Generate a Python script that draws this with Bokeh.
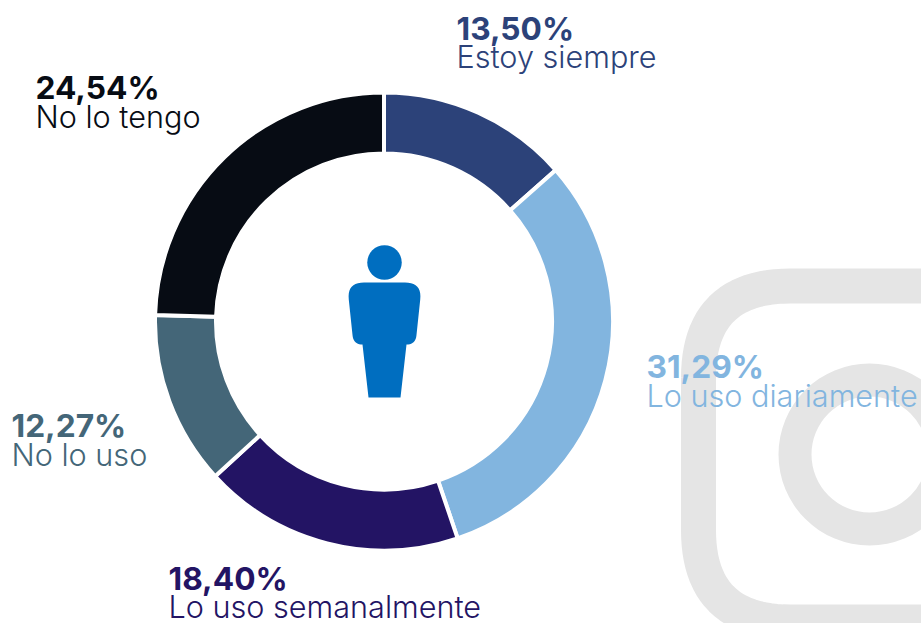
import math
from bokeh.plotting import figure
from bokeh.core.properties import value
from bokeh.embed import file_html
from bokeh.resources import INLINE

categories = ["Estoy siempre", "Lo uso diariamente", "Lo uso semanalmente", "No lo uso", "No lo tengo"]
percent_labels = ["13,50%", "31,29%", "18,40%", "12,27%", "24,54%"]
values = [13.50, 31.29, 18.40, 12.27, 24.54]
colors = ["#2C4279", "#82B5DF", "#231464", "#446678", "#070C14"]
label_x = [456, 646, 168, 11, 35]
pct_y = [28, 366, 578, 425, 87]
cat_y = [56, 395, 606, 454, 116]

GRAY = "#E5E5E5"
BLUE = "#006EC0"
CX, CY, R_OUT, R_IN = 383.5, 321, 229, 168

p = figure(width=921, height=623, x_range=(0, 921), y_range=(-623, 0),
           output_backend="svg", toolbar_location=None, min_border=0,
           outline_line_color=None, background_fill_color="white")
p.axis.visible = False
p.grid.visible = False


def rounded(points, radii, steps=10):
    xs, ys = [], []
    n = len(points)
    for i, (px, py) in enumerate(points):
        ax, ay = points[i - 1]
        bx, by = points[(i + 1) % n]
        r = radii[i]
        if r == 0:
            xs.append(px); ys.append(py)
            continue
        la = math.hypot(ax - px, ay - py)
        lb = math.hypot(bx - px, by - py)
        sx, sy = px + (ax - px) / la * r, py + (ay - py) / la * r
        ex, ey = px + (bx - px) / lb * r, py + (by - py) / lb * r
        for k in range(steps + 1):
            t = k / steps
            xs.append((1 - t) ** 2 * sx + 2 * t * (1 - t) * px + t ** 2 * ex)
            ys.append((1 - t) ** 2 * sy + 2 * t * (1 - t) * py + t ** 2 * ey)
    return xs, [-y for y in ys]


# Background Instagram glyph
ix, iy = rounded([(698, 285.5), (1150, 285.5), (1150, 621.5), (698, 621.5)], [92, 92, 92, 92], 24)
p.line(ix + ix[:1], iy + iy[:1], line_color=GRAY, line_width=35)
p.annular_wedge(x=[869], y=[-454], inner_radius=[58], outer_radius=[91], start_angle=[0],
                end_angle=[2 * math.pi], fill_color=GRAY, line_color=None)

# Donut
total = sum(values)
start, acc = [], 0.0
ends = []
for v in values:
    ends.append(math.pi / 2 - acc / total * 2 * math.pi)
    acc += v
    start.append(math.pi / 2 - acc / total * 2 * math.pi)
p.annular_wedge(x=[CX] * 5, y=[-CY] * 5, inner_radius=[R_IN] * 5, outer_radius=[R_OUT] * 5,
                start_angle=start, end_angle=ends, fill_color=colors,
                line_color="white", line_width=4)

# Person icon
p.scatter(x=[384], y=[-262], size=34.5, marker="circle", fill_color=BLUE, line_color=None)
bx, by = rounded([(346.5, 282), (421.5, 282), (415, 344), (406, 344), (400, 397), (368, 397), (362, 344), (353, 344)],
                 [17, 17, 9, 0, 0, 0, 0, 9])
p.patch(bx, by, fill_color=BLUE, line_color=None)

# Labels
p.text(x=label_x, y=[-v for v in pct_y], text=percent_labels, text_color=colors,
       text_font=value("Inter"), text_font_style="bold", text_font_size="31.7px",
       text_baseline="alphabetic", text_align="left")
p.text(x=label_x, y=[-v for v in cat_y], text=categories, text_color=colors,
       text_font=value("Inter Light"), text_font_size="30.6px",
       text_baseline="alphabetic", text_align="left")

open("out.html", "w").write(file_html(p, INLINE))
